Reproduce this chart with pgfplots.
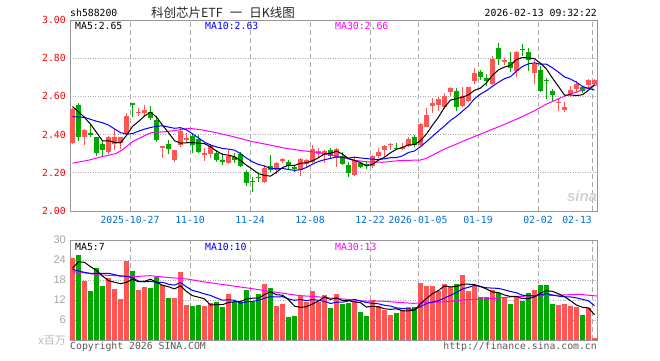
\documentclass[border=0pt]{standalone}
\usepackage{pgfplots}
\pgfplotsset{compat=1.18}
\usepackage{pgfplotstable}
\usepackage{fontspec}
\setmainfont{DejaVu Sans Mono}
\newfontfamily\cjk{Noto Sans CJK SC}
\newfontfamily\lsans{Liberation Sans}
\definecolor{kred}{RGB}{255,85,85}
\definecolor{kgreen}{RGB}{0,168,0}
\definecolor{tred}{RGB}{255,0,0}
\definecolor{dblue}{RGB}{0,110,210}
\definecolor{mablue}{RGB}{0,0,255}
\definecolor{mapink}{RGB}{255,0,255}
\definecolor{gridc}{RGB}{170,170,170}
\definecolor{framec}{RGB}{150,150,150}
\newcommand\mf{\fontsize{9.8}{11}\selectfont}

\pgfplotstableread{
i o h l c v
0 2.355 2.54 2.35 2.535 24.7
2 2.385 2.43 2.345 2.425 17.8
6 2.31 2.395 2.30 2.39 18.7
7 2.35 2.43 2.32 2.385 15.4
8 2.355 2.39 2.325 2.385 12.4
9 2.41 2.515 2.405 2.50 23.8
11 2.515 2.54 2.495 2.52 15
12 2.515 2.555 2.495 2.53 16
15 2.335 2.342 2.276 2.34 16.5
17 2.267 2.322 2.258 2.32 12.7
18 2.346 2.433 2.337 2.42 20.4
19 2.376 2.407 2.355 2.381 10.5
22 2.293 2.33 2.262 2.306 10.2
23 2.30 2.35 2.276 2.34 11
26 2.253 2.32 2.246 2.288 13.8
32 2.153 2.24 2.145 2.224 16.8
34 2.215 2.258 2.194 2.25 10.2
35 2.26 2.28 2.25 2.272 10.8
38 2.215 2.276 2.183 2.27 13.6
39 2.246 2.27 2.232 2.267 11.5
40 2.258 2.346 2.25 2.323 14.7
41 2.30 2.328 2.285 2.316 11.5
42 2.293 2.32 2.253 2.316 13.5
44 2.28 2.33 2.232 2.323 13.8
47 2.188 2.276 2.183 2.267 11.7
50 2.236 2.293 2.223 2.288 12
51 2.29 2.328 2.276 2.31 10.2
52 2.32 2.346 2.285 2.34 9
53 2.348 2.358 2.32 2.352 7.5
55 2.323 2.355 2.318 2.337 9
56 2.34 2.39 2.337 2.376 10
58 2.346 2.46 2.34 2.456 17.2
59 2.442 2.54 2.438 2.503 16.2
60 2.548 2.59 2.515 2.566 16.2
61 2.555 2.596 2.525 2.587 14.7
62 2.543 2.62 2.535 2.604 16.8
63 2.625 2.648 2.604 2.643 15.8
65 2.548 2.648 2.543 2.604 19.5
66 2.578 2.65 2.57 2.648 14.8
67 2.683 2.748 2.665 2.723 16.2
70 2.665 2.814 2.66 2.796 15
72 2.779 2.80 2.765 2.793 12.5
74 2.735 2.84 2.70 2.835 13
77 2.723 2.788 2.665 2.77 15
81 2.566 2.59 2.526 2.571 10.5
82 2.53 2.57 2.52 2.543 10.8
83 2.613 2.653 2.595 2.636 10.3
84 2.64 2.683 2.62 2.665 10
86 2.66 2.692 2.648 2.688 9.5
87 2.665 2.69 2.66 2.688 0.5
}\redK

\pgfplotstableread{
i o h l c v
1 2.555 2.565 2.365 2.39 25.5
3 2.41 2.455 2.385 2.40 14.7
4 2.385 2.39 2.29 2.305 21.7
5 2.35 2.37 2.29 2.318 16.2
10 2.567 2.567 2.49 2.553 20.8
13 2.52 2.548 2.475 2.485 15.7
14 2.475 2.495 2.362 2.372 19
16 2.349 2.37 2.30 2.325 12.7
20 2.393 2.407 2.306 2.346 10.2
21 2.375 2.398 2.302 2.31 10.5
24 2.306 2.32 2.258 2.267 11.3
25 2.265 2.302 2.241 2.26 10
27 2.282 2.306 2.25 2.268 11.3
28 2.30 2.31 2.232 2.237 11.3
29 2.206 2.215 2.133 2.145 15
30 2.157 2.18 2.10 2.152 11.3
31 2.18 2.206 2.153 2.175 13.8
33 2.236 2.293 2.206 2.216 15.7
36 2.258 2.268 2.215 2.236 7
37 2.23 2.24 2.206 2.22 7.2
43 2.32 2.33 2.28 2.288 9.7
45 2.288 2.31 2.24 2.246 10.8
46 2.241 2.258 2.18 2.20 11.2
48 2.25 2.258 2.223 2.232 8.4
49 2.245 2.258 2.218 2.236 7.3
54 2.33 2.355 2.32 2.326 8.2
57 2.39 2.398 2.337 2.346 10
64 2.63 2.643 2.525 2.543 16.8
68 2.73 2.74 2.688 2.70 13
69 2.697 2.718 2.653 2.683 13
71 2.852 2.88 2.765 2.796 14
73 2.779 2.83 2.73 2.748 10.8
75 2.85 2.875 2.814 2.846 11.7
76 2.831 2.852 2.735 2.788 14.2
78 2.74 2.76 2.625 2.63 16.5
79 2.686 2.695 2.587 2.681 16.5
80 2.63 2.64 2.57 2.608 10.8
85 2.648 2.657 2.62 2.63 7.5
}\greenK

\pgfplotsset{
  kbase/.style={
    scale only axis, width=527pt,
    xmin=-0.4167, xmax=87.4167,
    axis line style={draw=framec, line width=1pt},
    major tick length=0pt,
    xtick={9.583,19.583,29.583,39.583,49.583,57.583,67.583,77.583,86.583},
    xmajorgrids, ymajorgrids,
    x grid style={gridc, line width=0.8pt, dash pattern=on 5pt off 3pt},
    y grid style={gridc, line width=0.8pt, dash pattern=on 1pt off 1.5pt},
    ticklabel style={font=\mf},
    /pgf/number format/assume math mode=true,
  },
  wick/.style={draw=none, mark=none, forget plot,
    error bars/.cd, y dir=both, y explicit, error mark=none,
    error bar style={line width=1pt, draw=#1, solid}},
  body/.style={draw=none, mark=none, forget plot,
    error bars/.cd, y dir=both, y explicit, error mark=none,
    error bar style={line width=5pt, draw=#1, solid}},
}

\begin{document}
\begin{tikzpicture}
\path[use as bounding box] (0pt,0pt) rectangle (660pt,360pt);

% ---------- price panel ----------
\begin{axis}[kbase, at={(70pt,149pt)}, anchor=south west, height=191pt,
  ymin=2, ymax=3, ytick={2,2.2,2.4,2.6,2.8,3},
  yticklabel style={text=tred, inner sep=0pt, xshift=-4pt,
    /pgf/number format/.cd, fixed, fixed zerofill, precision=2},
  xticklabels={2025-10-27,11-10,11-24,12-08,12-22,2026-01-05,01-19,02-02},
  xtick={9.583,19.583,29.583,39.583,49.583,57.583,67.583,77.583},
  extra x ticks={86.583}, extra x tick labels={02-13},
  extra x tick style={grid=major, xticklabel style={anchor=north east}},
  xticklabel style={text=dblue, inner sep=0pt, yshift=-5pt},
]
\addplot[wick=kred] table[x=i, y expr=(\thisrow{h}+\thisrow{l})/2, y error expr=(\thisrow{h}-\thisrow{l})/2]{\redK};
\addplot[body=kred] table[x=i, y expr=(\thisrow{o}+\thisrow{c})/2, y error expr={max(abs(\thisrow{c}-\thisrow{o})/2,0.0027)}]{\redK};
\addplot[wick=kgreen] table[x=i, y expr=(\thisrow{h}+\thisrow{l})/2, y error expr=(\thisrow{h}-\thisrow{l})/2]{\greenK};
\addplot[body=kgreen] table[x=i, y expr=(\thisrow{o}+\thisrow{c})/2, y error expr={max(abs(\thisrow{c}-\thisrow{o})/2,0.0027)}]{\greenK};

% MA30
\addplot[mapink, line width=1pt] coordinates {
(0,2.25)(2.8,2.267)(5,2.285)(7.2,2.30)(8.3,2.32)(10,2.363)(11.7,2.39)(13.3,2.412)(15,2.414)(16.7,2.42)(19.4,2.433)(21.7,2.424)(24.4,2.407)(26.7,2.39)(30,2.363)(32.8,2.346)(35.6,2.328)(38.3,2.316)(41.1,2.306)(43.3,2.293)(46.7,2.267)(48.9,2.258)(51.7,2.255)(54.4,2.264)(58,2.267)(59,2.276)(61.7,2.32)(65.6,2.372)(68,2.403)(71.1,2.442)(74.4,2.486)(77,2.525)(79,2.56)(82.2,2.604)(85.6,2.64)(87.4,2.662)};
% MA10
\addplot[mablue, line width=1pt] coordinates {
(0,2.494)(1,2.492)(2,2.49)(3,2.48)(4,2.47)(5,2.462)(6,2.45)(7,2.43)(8,2.41)(9,2.4033)(10,2.4051)(11,2.4181)(12,2.4286)(13,2.4371)(14,2.4438)(15,2.446)(16,2.4395)(17,2.433)(18,2.4365)(19,2.4246)(20,2.4039)(21,2.3829)(22,2.3605)(23,2.346)(24,2.3355)(25,2.3275)(26,2.3238)(27,2.3186)(28,2.3003)(29,2.2767)(30,2.2573)(31,2.2438)(32,2.2356)(33,2.2232)(34,2.2215)(35,2.2227)(36,2.2175)(37,2.2127)(38,2.216)(39,2.2282)(40,2.2453)(41,2.2594)(42,2.2686)(43,2.2758)(44,2.2831)(45,2.2805)(46,2.2769)(47,2.2816)(48,2.2778)(49,2.2747)(50,2.2712)(51,2.2706)(52,2.273)(53,2.2794)(54,2.2797)(55,2.2888)(56,2.3064)(57,2.3143)(58,2.3367)(59,2.3634)(60,2.3912)(61,2.4189)(62,2.4453)(63,2.4744)(64,2.4961)(65,2.5228)(66,2.55)(67,2.5877)(68,2.6121)(69,2.6301)(70,2.6531)(71,2.674)(72,2.6929)(73,2.7034)(74,2.7326)(75,2.7568)(76,2.7708)(77,2.7755)(78,2.7685)(79,2.7684)(80,2.7496)(81,2.727)(82,2.702)(83,2.6908)(84,2.6738)(85,2.6522)(86,2.6422)(87,2.634)};
% MA5
\addplot[black, line width=1pt] coordinates {
(0,2.547)(1,2.52)(2,2.49)(3,2.455)(4,2.411)(5,2.3676)(6,2.3676)(7,2.3596)(8,2.3566)(9,2.3956)(10,2.4426)(11,2.4686)(12,2.4976)(13,2.5176)(14,2.492)(15,2.4494)(16,2.4104)(17,2.3684)(18,2.3554)(19,2.3572)(20,2.3584)(21,2.3554)(22,2.3526)(23,2.3366)(24,2.3138)(25,2.2966)(26,2.2922)(27,2.2846)(28,2.264)(29,2.2396)(30,2.218)(31,2.1954)(32,2.1866)(33,2.1824)(34,2.2034)(35,2.2274)(36,2.2396)(37,2.2388)(38,2.2496)(39,2.253)(40,2.2632)(41,2.2792)(42,2.2984)(43,2.302)(44,2.3132)(45,2.2978)(46,2.2746)(47,2.2648)(48,2.2536)(49,2.2362)(50,2.2446)(51,2.2666)(52,2.2812)(53,2.3052)(54,2.3232)(55,2.333)(56,2.3462)(57,2.3474)(58,2.3682)(59,2.4036)(60,2.4494)(61,2.4916)(62,2.5432)(63,2.5806)(64,2.5886)(65,2.5962)(66,2.6084)(67,2.6322)(68,2.6436)(69,2.6716)(70,2.71)(71,2.7396)(72,2.7536)(73,2.7632)(74,2.7936)(75,2.8036)(76,2.802)(77,2.7974)(78,2.7738)(79,2.7432)(80,2.6956)(81,2.652)(82,2.6066)(83,2.6078)(84,2.6044)(85,2.6088)(86,2.6324)(87,2.6614)};
\end{axis}

% ---------- volume panel ----------
\begin{axis}[kbase, at={(70pt,20pt)}, anchor=south west, height=100pt,
  ymin=0, ymax=30, ytick={6,12,18,24,30},
  yticklabel style={text=gray!70, inner sep=0pt, xshift=-4pt, font=\lsans\fontsize{11}{12}\selectfont},
  xticklabels={},
]
\addplot[ycomb, kred, line width=5pt, mark=none] table[x=i, y=v]{\redK};
\addplot[ycomb, kgreen, line width=5pt, mark=none] table[x=i, y=v]{\greenK};
% vol MA30
\addplot[mapink, line width=1pt] coordinates {
(0,20.5)(1.8,20.2)(4.6,19.5)(7.4,19.3)(10.2,19)(12.9,19.3)(15.7,18.8)(19.1,18.3)(22.4,17.3)(26.8,16.2)(29.6,15.5)(32.4,14.7)(35.2,14)(37.9,13.3)(40.7,13)(42.9,12.6)(45.7,12.2)(48.5,11.7)(51.3,11.7)(54.1,11.3)(56.8,11)(59.6,11.3)(62.4,11.5)(65.2,12)(67.9,12.3)(70.7,12.5)(73.4,13)(76.2,13.2)(79,13.3)(81.7,13.5)(84.4,13.7)(87.4,13.2)};
% vol MA10
\addplot[mablue, line width=1pt] coordinates {
(0,21.2)(1,20.7)(2,20.3)(3,20)(4,20)(5,20)(6,20)(7,19.6)(8,19.2)(9,19.09)(10,18.7)(11,17.65)(12,17.47)(13,17.57)(14,17.3)(15,17.33)(16,16.73)(17,16.46)(18,17.26)(19,15.93)(20,14.87)(21,14.42)(22,13.84)(23,13.37)(24,12.6)(25,11.95)(26,12.06)(27,11.92)(28,11.01)(29,11.46)(30,11.57)(31,11.9)(32,12.56)(33,13.03)(34,12.92)(35,13)(36,12.32)(37,11.91)(38,12.14)(39,11.79)(40,12.13)(41,11.9)(42,11.57)(43,10.97)(44,11.33)(45,11.33)(46,11.75)(47,12.2)(48,11.68)(49,11.26)(50,10.99)(51,10.86)(52,10.41)(53,10.19)(54,9.63)(55,9.45)(56,9.33)(57,9.16)(58,10.04)(59,10.93)(60,11.35)(61,11.8)(62,12.58)(63,13.41)(64,14.27)(65,15.32)(66,15.8)(67,16.42)(68,16)(69,15.68)(70,15.56)(71,15.49)(72,15.06)(73,14.56)(74,14.18)(75,13.4)(76,13.34)(77,13.22)(78,13.57)(79,13.92)(80,13.5)(81,13.15)(82,12.98)(83,12.93)(84,12.63)(85,12.21)(86,11.74)(87,10.29)};
% vol MA5
\addplot[black, line width=1pt] coordinates {
(0,21.5)(1,23.5)(2,23.3)(3,22)(4,20.88)(5,19.18)(6,17.82)(7,17.34)(8,16.88)(9,17.3)(10,18.22)(11,17.48)(12,17.6)(13,18.26)(14,17.3)(15,16.44)(16,15.98)(17,15.32)(18,16.26)(19,14.56)(20,13.3)(21,12.86)(22,12.36)(23,10.48)(24,10.64)(25,10.6)(26,11.26)(27,11.48)(28,11.54)(29,12.28)(30,12.54)(31,12.54)(32,13.64)(33,14.52)(34,13.56)(35,13.46)(36,12.1)(37,10.18)(38,9.76)(39,10.02)(40,10.8)(41,11.7)(42,12.96)(43,12.18)(44,12.64)(45,11.86)(46,11.8)(47,11.44)(48,11.18)(49,9.88)(50,10.12)(51,9.92)(52,9.38)(53,9.2)(54,9.38)(55,8.78)(56,8.74)(57,8.94)(58,10.88)(59,12.48)(60,13.92)(61,14.86)(62,16.22)(63,15.94)(64,16.06)(65,16.72)(66,16.74)(67,16.62)(68,16.06)(69,15.3)(70,14.4)(71,14.24)(72,13.5)(73,13.06)(74,13.06)(75,12.4)(76,12.44)(77,12.94)(78,14.08)(79,14.78)(80,14.6)(81,13.86)(82,13.02)(83,11.78)(84,10.48)(85,9.82)(86,9.62)(87,7.56)};
\end{axis}

% ---------- texts ----------
\node[anchor=base west, inner sep=0pt, font=\mf] at (70pt,343.3pt) {sh588200};
\node[anchor=base, inner sep=0pt, font=\cjk\fontsize{12.5}{13}\selectfont, text=black!85] at (223pt,343pt) {科创芯片ETF\hspace{7pt}一\hspace{7pt}日K线图};
\node[anchor=base east, inner sep=0pt, font=\mf] at (597pt,343.3pt) {2026-02-13 09:32:22};
\node[anchor=base west, inner sep=0pt, font=\mf] at (75pt,330.7pt) {MA5:2.65};
\node[anchor=base west, inner sep=0pt, font=\mf, text=mablue] at (205pt,330.7pt) {MA10:2.63};
\node[anchor=base west, inner sep=0pt, font=\mf, text=mapink] at (335pt,330.7pt) {MA30:2.66};
\node[anchor=base west, inner sep=0pt, font=\mf] at (75pt,110pt) {MA5:7};
\node[anchor=base west, inner sep=0pt, font=\mf, text=mablue] at (205pt,110pt) {MA10:10};
\node[anchor=base west, inner sep=0pt, font=\mf, text=mapink] at (335pt,110pt) {MA30:13};
\node[anchor=east, inner sep=0pt, text=gray!55, font=\lsans\fontsize{11}{12}\selectfont] at (66pt,19pt) {x{\cjk 百万}};
\node[anchor=base west, inner sep=0pt, font=\mf, text=black!65] at (70pt,10.5pt) {Copyright 2026 SINA.COM};
\node[anchor=base east, inner sep=0pt, font=\mf, text=black!65] at (597pt,10.5pt) {http://finance.sina.com.cn};
\node[inner sep=0pt, text=gray!35, font=\lsans\bfseries\itshape\fontsize{15}{16}\selectfont] at (582pt,164pt) {sina};
\end{tikzpicture}
\end{document}
